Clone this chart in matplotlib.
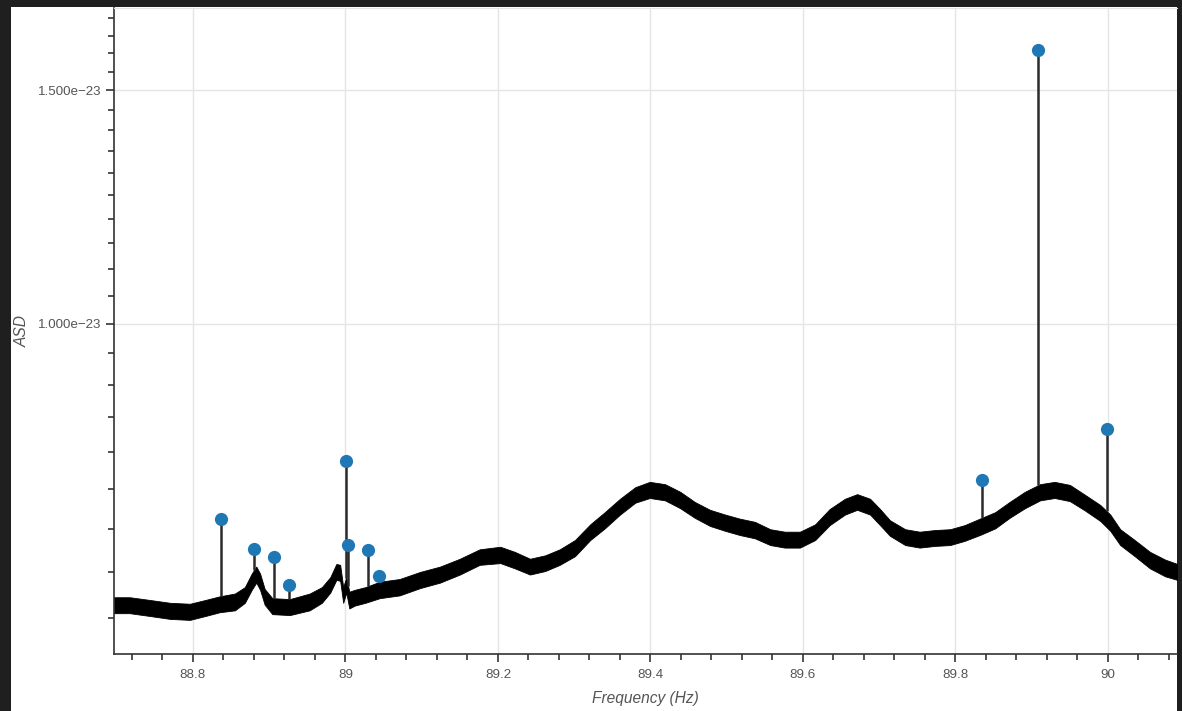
import matplotlib
matplotlib.use("Agg")
import matplotlib.pyplot as plt
import numpy as np
from matplotlib.patches import Rectangle
from matplotlib.ticker import MultipleLocator, FixedLocator, FuncFormatter, NullFormatter

plt.rcParams['font.family'] = ['Liberation Sans', 'DejaVu Sans']

# --- Spectrum envelope (ASD in units of 1e-24) ---
freq = [88.696, 88.717, 88.744, 88.770, 88.796, 88.816, 88.835, 88.855, 88.868, 88.877,
        88.883, 88.888, 88.894, 88.904, 88.927, 88.953, 88.969, 88.980, 88.988, 88.993,
        88.997, 89.001, 89.005, 89.012, 89.026, 89.045, 89.071, 89.098, 89.124, 89.150,
        89.176, 89.203, 89.222, 89.242, 89.262, 89.281, 89.301, 89.321, 89.340, 89.360,
        89.380, 89.399, 89.419, 89.439, 89.458, 89.478, 89.498, 89.517, 89.537, 89.557,
        89.576, 89.596, 89.616, 89.635, 89.655, 89.671, 89.688, 89.701, 89.714, 89.734,
        89.753, 89.773, 89.793, 89.812, 89.832, 89.852, 89.871, 89.891, 89.911, 89.930,
        89.950, 89.970, 89.990, 90.003, 90.016, 90.035, 90.055, 90.075, 90.091]
asd_hi = [6.22, 6.22, 6.19, 6.16, 6.15, 6.19, 6.23, 6.26, 6.33, 6.48,
          6.56, 6.48, 6.31, 6.21, 6.20, 6.26, 6.33, 6.44, 6.59, 6.58,
          6.33, 6.44, 6.28, 6.30, 6.33, 6.39, 6.42, 6.50, 6.56, 6.65,
          6.76, 6.79, 6.73, 6.65, 6.69, 6.76, 6.87, 7.06, 7.21, 7.38,
          7.53, 7.60, 7.57, 7.47, 7.34, 7.24, 7.18, 7.13, 7.09, 7.00,
          6.97, 6.97, 7.06, 7.25, 7.38, 7.44, 7.38, 7.25, 7.11, 7.00,
          6.97, 6.99, 7.00, 7.05, 7.13, 7.21, 7.34, 7.47, 7.57, 7.60,
          7.56, 7.43, 7.30, 7.18, 7.00, 6.87, 6.73, 6.64, 6.59]
asd_lo = [6.05, 6.05, 6.02, 5.99, 5.98, 6.02, 6.06, 6.08, 6.16, 6.30,
          6.38, 6.30, 6.14, 6.04, 6.03, 6.08, 6.16, 6.27, 6.41, 6.40,
          6.16, 6.27, 6.10, 6.13, 6.16, 6.21, 6.24, 6.32, 6.38, 6.47,
          6.58, 6.60, 6.54, 6.47, 6.51, 6.58, 6.68, 6.87, 7.01, 7.18,
          7.33, 7.39, 7.36, 7.26, 7.14, 7.04, 6.98, 6.93, 6.89, 6.81,
          6.78, 6.78, 6.87, 7.05, 7.18, 7.24, 7.18, 7.05, 6.92, 6.81,
          6.78, 6.80, 6.81, 6.86, 6.93, 7.01, 7.14, 7.26, 7.36, 7.39,
          7.35, 7.23, 7.10, 6.98, 6.81, 6.68, 6.54, 6.45, 6.41]

# --- Detected lines (blue markers) ---
peak_freq = [88.8367, 88.8800, 88.9062, 88.9259, 89.0007, 89.0033,
             89.0295, 89.0439, 89.8348, 89.9082, 89.9987]
peak_asd = [7.125, 6.765, 6.672, 6.355, 7.882, 6.812,
            6.753, 6.455, 7.626, 16.10, 8.332]

y_ticks = [1.0e-23, 1.5e-23]

unit = 1e-24
freq = np.array(freq)
hi = np.array(asd_hi) * unit
lo = np.array(asd_lo) * unit
pf = np.array(peak_freq)
pa = np.array(peak_asd) * unit

W, H = 1182, 711
fig = plt.figure(figsize=(W / 100, H / 100), dpi=100, facecolor='#1f1f1f')
# white canvas inside the dark frame (drawn below the axes)
fig.patches.append(Rectangle((11 / W, 0), 1166 / W, 704 / H, transform=fig.transFigure,
                             facecolor='white', edgecolor='none', zorder=-10))
ax = fig.add_axes([114 / W, (H - 654) / H, (1177 - 114) / W, (654 - 8) / H])
ax.set_facecolor('white')

ax.fill_between(freq, lo, hi, color='black', lw=0.6, zorder=2)
stem_base = np.interp(pf, freq, hi)
ax.vlines(pf, stem_base, pa, color='#2b2b2b', lw=1.8, zorder=3)
ax.plot(pf, pa, 'o', color='#1f77b4', markersize=9.5, markeredgewidth=0, zorder=4)

ax.set_yscale('log')
ax.set_xlim(88.6964, 90.0905)
ax.set_ylim(5.636e-24, 1.7309e-23)

ax.xaxis.set_major_locator(MultipleLocator(0.2))
ax.xaxis.set_minor_locator(MultipleLocator(0.04))
ax.xaxis.set_major_formatter(FuncFormatter(lambda v, p: ('%.1f' % v).rstrip('0').rstrip('.')))
ax.yaxis.set_major_locator(FixedLocator(y_ticks))
ax.yaxis.set_minor_locator(MultipleLocator(5e-25))
ax.yaxis.set_major_formatter(FuncFormatter(lambda v, p: ('%.3e' % v).replace('-', '\u2212')))
ax.yaxis.set_minor_formatter(NullFormatter())

ax.grid(True, which='major', color='#e5e5e5', lw=1, zorder=0)
ax.set_axisbelow(True)

for s in ['left', 'bottom']:
    ax.spines[s].set_color('#333333')
    ax.spines[s].set_linewidth(1.2)
ax.spines['top'].set_color('#e5e5e5')
ax.spines['right'].set_visible(False)

ax.tick_params(which='major', direction='out', length=6, width=1.2, color='#333333',
               labelcolor='#555555', labelsize=9.6, pad=5)
ax.tick_params(axis='y', which='major', pad=3)
ax.tick_params(which='minor', direction='out', length=4, width=1.2, color='#333333')

ax.set_xlabel('Frequency (Hz)', fontsize=11.2, style='italic', color='#555555', labelpad=7)
ax.set_ylabel('ASD', fontsize=11.2, style='italic', color='#555555', labelpad=6)

fig.savefig('out.png', dpi=100, facecolor=fig.get_facecolor())
